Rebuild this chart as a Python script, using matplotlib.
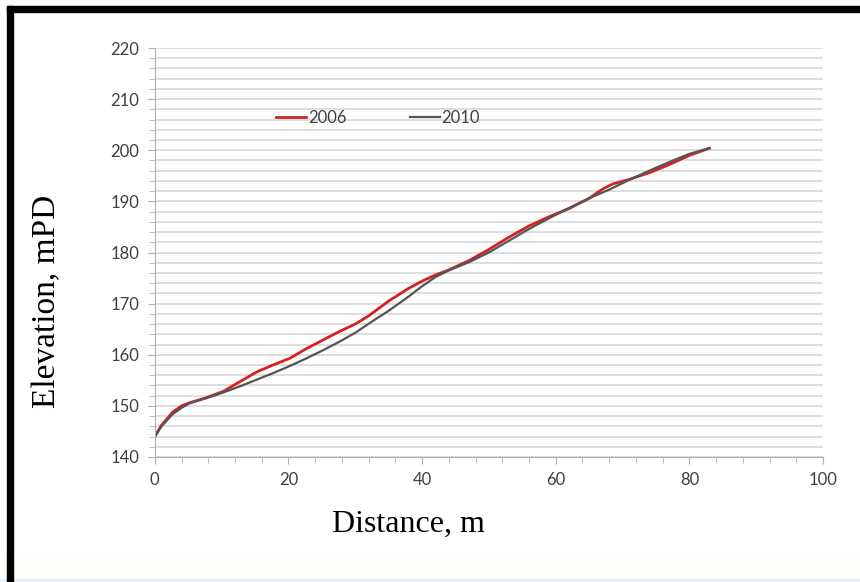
import matplotlib.pyplot as plt
from matplotlib.patches import Rectangle
from matplotlib.ticker import MultipleLocator

# survey profiles
dist_2006 = [0, 1, 2.7, 4, 5.2, 7.7, 10.2, 12.7, 15.2, 17.7, 20.2, 22.7, 25.2, 27.7,
             30, 32, 35, 38, 40, 42, 44, 47, 50, 53, 56, 59, 62, 65, 67, 68.5,
             71, 74, 77, 80, 83]
elev_2006 = [144, 146.2, 148.8, 150, 150.6, 151.6, 152.8, 154.7, 156.6, 158, 159.3,
             161.2, 162.9, 164.6, 166, 167.6, 170.5, 173, 174.4, 175.6, 176.6, 178.4,
             180.6, 183, 185.2, 187, 188.6, 190.6, 192.4, 193.4, 194.3, 195.6, 197.2,
             199, 200.4]

dist_2010 = [0, 1, 2.7, 4, 5.2, 7.7, 10.2, 12.7, 15.2, 17.7, 20.2, 22.7, 25.2, 27.7,
             30, 32.5, 35, 38, 40, 42, 44, 47, 50, 53, 56, 59, 62, 65, 68, 71, 74,
             77, 80, 83]
elev_2010 = [144, 146, 148.4, 149.6, 150.5, 151.5, 152.6, 153.8, 155.1, 156.4, 157.8,
             159.3, 160.9, 162.6, 164.3, 166.5, 168.6, 171.4, 173.4, 175.2, 176.5,
             178.1, 180, 182.3, 184.6, 186.7, 188.7, 190.6, 192.3, 194.2, 196, 197.7,
             199.3, 200.4]

fig = plt.figure(figsize=(8.6, 5.82), dpi=100)
ax = fig.add_axes([0.180, 0.2148, 0.777, 0.7027])

# faint bottom strip + black frame (top and left)
fig.patches.append(Rectangle((0, 0), 1, 0.05, transform=fig.transFigure,
                             color='#fffefa', zorder=-2))
fig.patches.append(Rectangle((0, 0), 1, 0.006, transform=fig.transFigure,
                             color='#e6f1f9', zorder=-1))
fig.patches.append(Rectangle((0.008, 0.979), 0.992, 0.011, transform=fig.transFigure,
                             color='black'))
fig.patches.append(Rectangle((0.008, 0), 0.007, 0.99, transform=fig.transFigure,
                             color='black'))

ax.plot(dist_2006, elev_2006, color='#d42222', lw=2.0, label='2006')
ax.plot(dist_2010, elev_2010, color='#555555', lw=1.6, label='2010')

ax.set_xlim(0, 100)
ax.set_ylim(140, 220)
ax.xaxis.set_major_locator(MultipleLocator(20))
ax.xaxis.set_minor_locator(MultipleLocator(4))
ax.yaxis.set_major_locator(MultipleLocator(10))
ax.yaxis.set_minor_locator(MultipleLocator(2))
ax.grid(which='both', axis='y', color='#d4d4d4', lw=1.1)
ax.set_axisbelow(True)

for s in ['top', 'right']:
    ax.spines[s].set_visible(False)
for s in ['left', 'bottom']:
    ax.spines[s].set_color('#b0b0b0')
ax.tick_params(which='both', direction='out', color='#b0b0b0', labelcolor='#404040',
               labelsize=12, pad=6)
ax.tick_params(which='major', length=5)
ax.tick_params(which='minor', length=4)
for lab in ax.get_xticklabels() + ax.get_yticklabels():
    lab.set_family('Lato')

ax.set_xlabel('Distance, m', family='Liberation Serif', fontsize=23)
ax.set_ylabel('Elevation, mPD', family='Liberation Serif', fontsize=24)
ax.xaxis.set_label_coords(0.38, -0.13)
ax.yaxis.set_label_coords(-0.139, 0.38)

leg = ax.legend(loc='center', bbox_to_anchor=(0.334, 0.83), ncol=2, frameon=False,
                prop={'family': 'Lato', 'size': 12}, handlelength=1.8,
                handletextpad=0.1, columnspacing=3.8)
for t in leg.get_texts():
    t.set_color('#404040')

fig.savefig('out.png', dpi=100, facecolor='white')
